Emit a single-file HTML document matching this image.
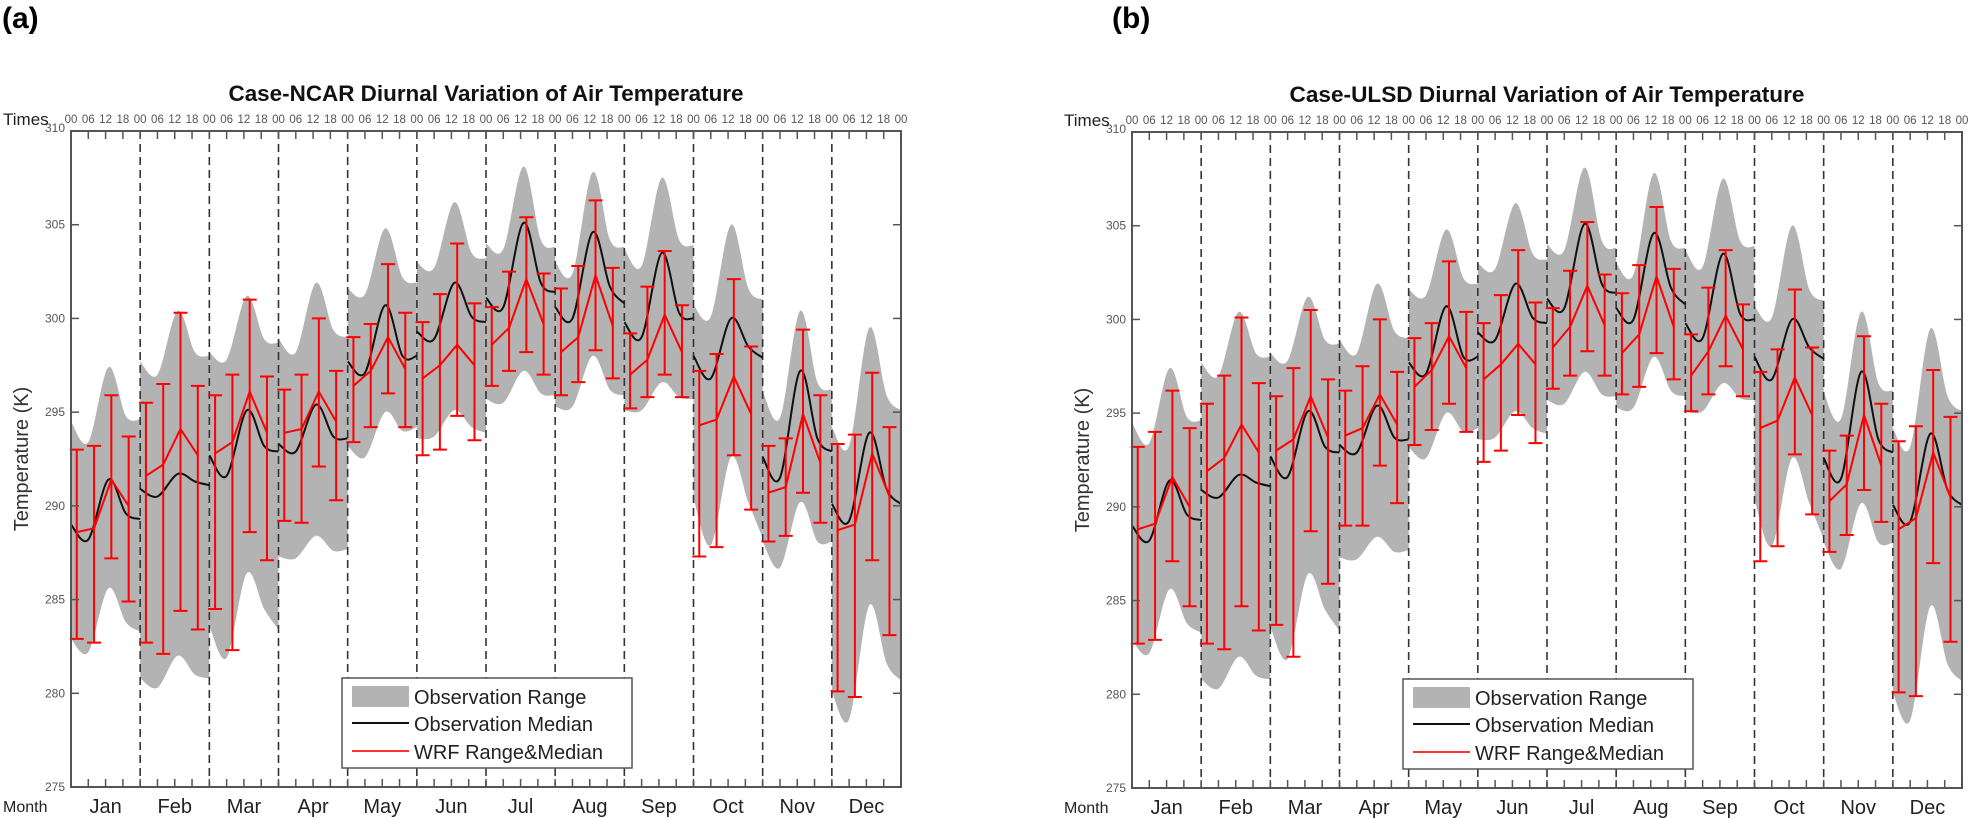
<!DOCTYPE html>
<html><head><meta charset="utf-8">
<style>
html,body{margin:0;padding:0;background:#fff;}
svg{display:block;font-family:"Liberation Sans",Arial,sans-serif;}
</style></head>
<body>
<svg id="chart" xmlns="http://www.w3.org/2000/svg" width="1970" height="818" viewBox="0 0 1970 818"></svg>
<script>
// ---------- data ----------
const months = ["Jan","Feb","Mar","Apr","May","Jun","Jul","Aug","Sep","Oct","Nov","Dec"];
const timeLabels = ["00","06","12","18"];
const yTicks = [275,280,285,290,295,300,305,310];
const obsHours = [0,6,13,19,24];
const wrfHours = [2,8,14,20];
const obsTop = [
[294.5,293.4,297.4,294.8,294.6],[297.7,297.0,300.4,298.2,298.0],[298.2,297.8,301.2,298.9,298.7],
[298.9,298.2,301.9,299.4,299.0],[301.6,301.3,304.8,302.2,301.9],[303.0,302.7,306.2,303.5,303.2],
[304.0,303.7,308.1,304.2,303.8],[303.0,302.4,307.8,304.2,303.8],[303.7,302.8,307.5,304.2,303.9],
[300.7,300.1,305.0,301.6,301.0],[296.1,294.7,300.4,296.6,296.2],[294.2,293.2,299.5,295.9,295.1]];
const obsBot = [
[282.9,282.2,285.6,283.8,283.3],[280.8,280.3,282.0,281.0,280.8],[283.6,281.9,286.4,284.5,283.4],
[287.3,287.2,288.4,287.6,287.7],[293.2,292.6,295.0,294.0,294.2],[293.6,293.7,295.1,294.2,293.9],
[295.7,295.5,297.2,296.0,295.9],[295.3,295.3,298.0,296.2,295.9],[295.1,295.1,296.6,295.8,295.7],
[290.4,287.9,292.6,290.2,288.3],[288.1,286.7,290.2,288.1,288.1],[280.1,278.6,284.7,281.6,280.7]];
const obsMed = [
[289.0,288.2,291.4,289.6,289.3],[290.9,290.5,291.7,291.3,291.1],[292.7,291.6,295.1,293.2,292.9],
[293.3,292.9,295.4,293.7,293.6],[297.7,297.1,300.7,298.0,298.0],[299.3,298.9,301.9,300.1,299.8],
[301.1,300.6,305.1,301.9,301.4],[300.6,300.0,304.6,301.7,300.8],[299.8,299.0,303.5,300.3,300.0],
[298.0,296.8,300.0,298.5,297.9],[292.6,291.5,297.2,293.6,292.9],[290.1,289.2,293.9,290.9,290.1]];
const wrfTopA = [
[293.0,293.2,295.9,293.7],[295.5,296.5,300.3,296.4],[295.9,297.0,301.0,296.9],[296.2,297.0,300.0,297.2],
[299.0,299.7,302.9,300.3],[299.8,301.3,304.0,300.8],[300.6,302.5,305.4,302.4],[301.6,302.8,306.3,302.7],
[299.2,301.7,303.6,300.7],[297.2,298.1,302.1,298.5],[293.2,293.6,299.4,295.9],[293.3,293.8,297.1,294.2]];
const wrfBotA = [
[282.9,282.7,287.2,284.9],[282.7,282.1,284.4,283.4],[284.5,282.3,288.6,287.1],[289.2,289.1,292.1,290.3],
[293.4,294.2,296.0,294.2],[292.7,293.0,294.8,293.5],[296.4,297.2,298.2,297.0],[295.9,296.6,298.3,296.8],
[295.2,295.8,297.0,295.8],[287.3,287.8,292.7,289.8],[288.1,288.4,290.7,289.1],[280.1,279.8,287.1,283.1]];
const wrfMedA = [
[288.6,288.8,291.4,290.0],[291.6,292.2,294.1,292.7],[292.8,293.4,296.1,293.9],[293.9,294.1,296.1,294.5],
[296.4,297.2,299.0,297.3],[296.8,297.5,298.6,297.5],[298.6,299.5,302.1,299.7],[298.2,299.0,302.3,299.6],
[297.0,297.8,300.2,298.2],[294.3,294.6,296.9,294.9],[290.7,291.0,294.9,292.3],[288.7,289.0,292.8,290.5]];
const wrfTopB = [
[293.2,294.0,296.2,294.2],[295.5,297.0,300.1,296.6],[295.9,297.4,300.5,296.8],[296.2,297.5,300.0,297.2],
[299.0,299.8,303.1,300.4],[299.8,301.3,303.7,300.9],[300.6,302.6,305.2,302.4],[301.4,302.9,306.0,302.7],
[299.2,301.7,303.7,300.8],[297.2,298.4,301.6,298.5],[293.0,293.8,299.1,295.5],[293.5,294.3,297.3,294.8]];
const wrfBotB = [
[282.7,282.9,287.1,284.7],[282.7,282.4,284.7,283.4],[283.7,282.0,288.7,285.9],[289.0,289.0,292.2,290.2],
[293.3,294.1,295.5,294.0],[292.4,293.0,294.9,293.4],[296.3,297.0,298.3,297.0],[296.0,296.4,298.2,296.8],
[295.1,296.0,297.5,295.9],[287.1,287.9,292.8,289.6],[287.6,288.5,290.9,289.2],[280.1,279.9,287.0,282.8]];
const wrfMedB = [
[288.8,289.1,291.6,290.0],[291.9,292.6,294.4,292.9],[293.0,293.6,295.9,293.7],[293.8,294.2,296.0,294.4],
[296.4,297.3,299.1,297.4],[296.8,297.6,298.7,297.6],[298.5,299.6,301.8,299.7],[298.2,299.2,302.3,299.6],
[297.0,298.3,300.2,298.4],[294.2,294.6,296.9,294.9],[290.3,291.2,294.9,292.2],[288.8,289.4,292.9,290.5]];

// ---------- helpers ----------
const NS = "http://www.w3.org/2000/svg";
const svg = document.getElementById("chart");
function mk(tag, attrs, parent){
  const e = document.createElementNS(NS, tag);
  for (const k in attrs) e.setAttribute(k, attrs[k]);
  (parent||svg).appendChild(e);
  return e;
}
function smooth(pts){
  let d = "M"+pts[0][0].toFixed(1)+","+pts[0][1].toFixed(1);
  for (let i=0;i<pts.length-1;i++){
    const p0=pts[i-1]||pts[i], p1=pts[i], p2=pts[i+1], p3=pts[i+2]||p2;
    const c1=[p1[0]+(p2[0]-p0[0])/6, p1[1]+(p2[1]-p0[1])/6];
    const c2=[p2[0]-(p3[0]-p1[0])/6, p2[1]-(p3[1]-p1[1])/6];
    d += " C"+c1[0].toFixed(1)+","+c1[1].toFixed(1)+" "+c2[0].toFixed(1)+","+c2[1].toFixed(1)+" "+p2[0].toFixed(1)+","+p2[1].toFixed(1);
  }
  return d;
}

function panel(ox, oy, label, title, wTop, wBot, wMed){
  const X0=71+ox, X1=901+ox, Y0=131+oy, Y1=787+oy;
  const MW=(X1-X0)/12;
  const xs=(m,h)=>X0+(m+h/24)*MW;
  const ys=v=>Y0+(310-v)*(Y1-Y0)/35;
  const g = mk("g",{});
  
  

  const pl = mk("text",{x:ox+(ox?51:2),y:28,"font-size":30,"font-weight":"bold",fill:"#000"},g);
  pl.textContent = "("+label+")";
  
  

  const tt = mk("text",{x:(X0+X1)/2,y:101+oy,"font-size":22,"font-weight":"bold","text-anchor":"middle",textLength:515,lengthAdjust:"spacingAndGlyphs",fill:"#111"},g);
  tt.textContent = title;
  
  

  // gray obs range
  for (let m=0;m<12;m++){
    const top = obsHours.map((h,i)=>[xs(m,h),ys(obsTop[m][i])]);
    const bot = obsHours.map((h,i)=>[xs(m,h),ys(obsBot[m][i])]).reverse();
    let d = smooth(top) + " L" + bot[0][0].toFixed(1)+","+bot[0][1].toFixed(1) + smooth(bot).slice(smooth(bot).indexOf(" ")) + " Z";
    const a = mk("path",{d:d,fill:"#b3b3b3",stroke:"none"},g);
    
    
  }
  // month dividers
  for (let m=1;m<12;m++){
    const l = mk("line",{x1:xs(m,0),x2:xs(m,0),y1:Y0,y2:Y1,stroke:"#333","stroke-width":1.6,"stroke-dasharray":"8,5"},g);
    
    
  }
  // obs median
  for (let m=0;m<12;m++){
    const pts = obsHours.map((h,i)=>[xs(m,h),ys(obsMed[m][i])]);
    const p = mk("path",{d:smooth(pts),fill:"none",stroke:"#111","stroke-width":2},g);
    
    
  }
  // WRF
  for (let m=0;m<12;m++){
    const pts = wrfHours.map((h,i)=>xs(m,h).toFixed(1)+","+ys(wMed[m][i]).toFixed(1)).join(" ");
    const pl2 = mk("polyline",{points:pts,fill:"none",stroke:"#f00","stroke-width":2},g);
    
    
    for (let i=0;i<4;i++){
      const x=xs(m,wrfHours[i]), yt=ys(wTop[m][i]), yb=ys(wBot[m][i]);
      const eb = mk("path",{d:`M${x},${yt} L${x},${yb} M${x-7},${yt} L${x+7},${yt} M${x-7},${yb} L${x+7},${yb}`,stroke:"#f00","stroke-width":2,fill:"none"},g);
      
      
    }
  }
  // frame
  const fr = mk("rect",{x:X0,y:Y0,width:X1-X0,height:Y1-Y0,fill:"none",stroke:"#555","stroke-width":2},g);
  
  
  // time ticks and labels
  for (let k=0;k<=48;k++){
    const x = X0+k*MW/4;
    const t1 = mk("line",{x1:x,x2:x,y1:Y0,y2:Y0+8,stroke:"#555","stroke-width":1.5},g);
    
    
    const t2 = mk("line",{x1:x,x2:x,y1:Y1,y2:Y1-8,stroke:"#555","stroke-width":1.5},g);
    
    
    const tl = mk("text",{x:x,y:Y0-8,"font-size":11.5,"text-anchor":"middle",fill:"#555"},g);
    tl.textContent = timeLabels[k%4];
    
    
  }
  // y ticks
  yTicks.forEach(v=>{
    const y=ys(v);
    const a=mk("line",{x1:X0,x2:X0+8,y1:y,y2:y,stroke:"#555","stroke-width":1.5},g);
    
    
    const b=mk("line",{x1:X1,x2:X1-8,y1:y,y2:y,stroke:"#555","stroke-width":1.5},g);
    
    
    const t=mk("text",{x:X0-6,y:(v===310?y+1:y+4),"font-size":12,"text-anchor":"end",fill:"#555"},g);
    t.textContent=v;
    
    
  });
  const tm = mk("text",{x:X0-68,y:Y0-6,"font-size":17,fill:"#222"},g);
  tm.textContent="Times";
  
  
  const mo = mk("text",{x:X0-68,y:Y1+25,"font-size":16,fill:"#222"},g);
  mo.textContent="Month";
  
  
  months.forEach((n,m)=>{
    const t=mk("text",{x:xs(m,12),y:Y1+26,"font-size":20,"text-anchor":"middle",fill:"#222"},g);
    t.textContent=n;
    
    
  });
  const yt = mk("text",{x:0,y:0,"font-size":20,"text-anchor":"middle",fill:"#333",transform:`translate(${X0-43},${(Y0+Y1)/2}) rotate(-90)`},g);
  yt.textContent="Temperature (K)";
  
  
  // legend
  const lg = mk("g",{},g);
  
  
  const lx=X0+271, ly=Y0+547;
  mk("rect",{x:lx,y:ly,width:290,height:90,fill:"#fff",stroke:"#555","stroke-width":1.5},lg);
  const e1=mk("rect",{x:lx+10,y:ly+8,width:57,height:21,fill:"#b3b3b3"},lg);
  
  
  const e2=mk("line",{x1:lx+10,x2:lx+67,y1:ly+45,y2:ly+45,stroke:"#111","stroke-width":2},lg);
  
  
  const e3=mk("line",{x1:lx+10,x2:lx+67,y1:ly+73,y2:ly+73,stroke:"#f33","stroke-width":2},lg);
  
  
  [["Observation Range",26],["Observation Median",53],["WRF Range&Median",81]].forEach(r=>{
    const t=mk("text",{x:lx+72,y:ly+r[1],"font-size":20,fill:"#222"},lg);
    t.textContent=r[0];
    
    
  });
}
panel(0,0,"a","Case-NCAR Diurnal Variation of Air Temperature",wrfTopA,wrfBotA,wrfMedA);
panel(1061,1,"b","Case-ULSD Diurnal Variation of Air Temperature",wrfTopB,wrfBotB,wrfMedB);
</script>
</body></html>
